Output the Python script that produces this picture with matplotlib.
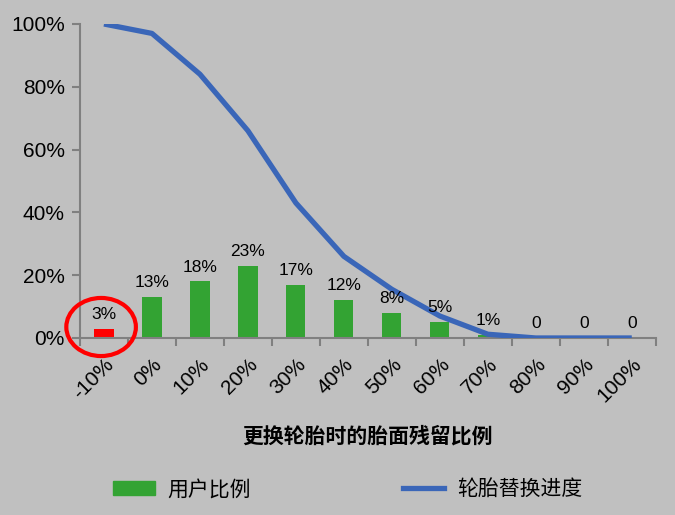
import matplotlib.pyplot as plt
import numpy as np
from matplotlib.patches import Ellipse, Patch
from matplotlib.lines import Line2D

plt.rcParams['font.family'] = ['Liberation Sans', 'Noto Sans CJK SC', 'DejaVu Sans']

# tread remaining when tyre replaced
categories = ['-10%', '0%', '10%', '20%', '30%', '40%', '50%', '60%', '70%', '80%', '90%', '100%']
user_share = [3, 13, 18, 23, 17, 12, 8, 5, 1, 0, 0, 0]
replace_progress = [100, 97, 84, 66, 43, 26, 15.5, 7, 1.2, 0, 0, 0]
bar_labels = ['3%', '13%', '18%', '23%', '17%', '12%', '8%', '5%', '1%', '0', '0', '0']

bg = '#c0c0c0'
green = '#33a333'
blue = '#3a66b8'
grey = '#808080'

fig = plt.figure(figsize=(6.75, 5.15), dpi=100, facecolor=bg)
ax = fig.add_axes([0.1185, 0.3437, 0.853, 0.6097], facecolor=bg)

x = np.arange(len(categories))
colors = ['#ff0000'] + [green] * (len(categories) - 1)
ax.bar(x, np.array(user_share) / 100, width=0.4, color=colors, zorder=2)
ax.plot(x, np.array(replace_progress) / 100, color=blue, lw=3.8, zorder=3,
        solid_capstyle='butt')

for xi, v, lab in zip(x, user_share, bar_labels):
    ax.text(xi, v / 100 + 0.022, lab, ha='center', va='bottom', fontsize=12.5,
            zorder=4)

# circle around the -10% bar
ax.add_patch(Ellipse((-0.06, 0.035), 1.45, 0.185, fill=False, ec='#ff0000',
                     lw=3, zorder=5, clip_on=False))

ax.set_xlim(-0.5, len(categories) - 0.5)
ax.set_ylim(0, 1)
ax.set_yticks(np.arange(0, 1.01, 0.2))
ax.set_yticklabels([f'{int(round(t * 100))}%' for t in np.arange(0, 1.01, 0.2)],
                   fontsize=15)
ax.set_xticks(x)
ax.set_xticklabels(categories, rotation=45, ha='right', rotation_mode='anchor',
                   fontsize=15)
ax.set_xticks(np.arange(-0.5, len(categories), 1), minor=True)
ax.tick_params(axis='x', which='major', length=0, pad=12)
ax.tick_params(axis='x', which='minor', length=6, color=grey, width=1.5)
ax.tick_params(axis='y', length=6, color=grey, width=1.5, pad=5)

for s in ['top', 'right']:
    ax.spines[s].set_visible(False)
for s in ['left', 'bottom']:
    ax.spines[s].set_color(grey)
    ax.spines[s].set_linewidth(1.5)

ax.set_xlabel('更换轮胎时的胎面残留比例', fontsize=15, fontweight='bold', labelpad=14,
              family=['Noto Sans CJK SC'])

handles = [Patch(color=green), Line2D([0], [0], color=blue, lw=3.8)]
fig.legend(handles, ['用户比例', '轮胎替换进度'], loc='center', bbox_to_anchor=(0.515, 0.05),
           ncol=2, frameon=False, columnspacing=7.3, handlelength=2.0,
           handletextpad=0.6, prop={'family': ['Noto Sans CJK SC'], 'size': 15})

fig.savefig('out.png', dpi=100, facecolor=bg)
